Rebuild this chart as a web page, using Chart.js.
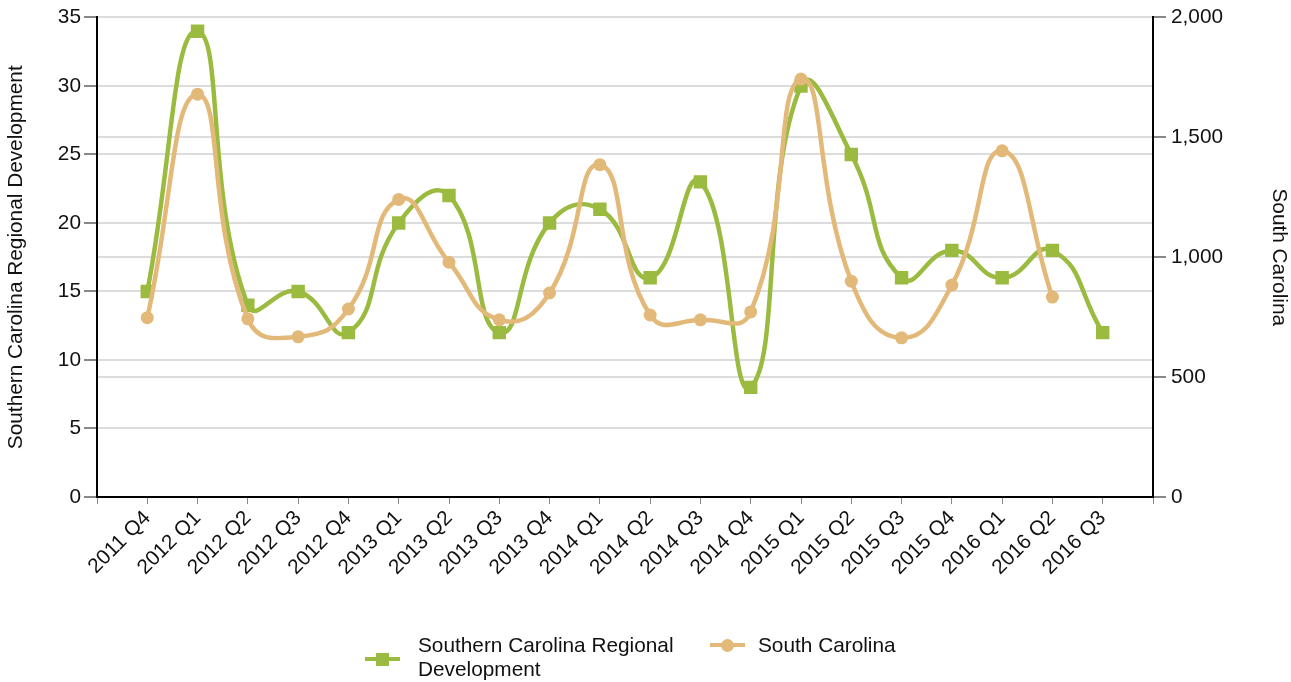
<!DOCTYPE html>
<html>
<head>
<meta charset="utf-8">
<script src="https://cdn.jsdelivr.net/npm/chart.js@4"></script>
<style>
  html, body { margin: 0; padding: 0; background: #fff; }
  #wrap { position: relative; width: 1291px; height: 682px; }
  #legend { position: absolute; left: 0; top: 0; width: 1291px; height: 682px; pointer-events: none;
    font-family: "Liberation Sans", Arial, sans-serif; font-size: 20.8px; color: #111; }
  .item { position: absolute; line-height: 24px; }
  .line { position: absolute; height: 4px; }
  .mark { position: absolute; }
</style>
</head>
<body>
<div id="wrap">
  <canvas id="chart" width="1291" height="682"></canvas>
  <div id="legend"></div>
</div>
<script>
const quarters = ['2011 Q4', '2012 Q1', '2012 Q2', '2012 Q3', '2012 Q4', '2013 Q1', '2013 Q2', '2013 Q3',
  '2013 Q4', '2014 Q1', '2014 Q2', '2014 Q3', '2014 Q4', '2015 Q1', '2015 Q2', '2015 Q3', '2015 Q4',
  '2016 Q1', '2016 Q2', '2016 Q3'];
const regional = [15, 34, 14, 15, 12, 20, 22, 12, 20, 21, 16, 23, 8, 30, 25, 16, 18, 16, 18, 12];
const southCarolina = [748, 1680, 743, 668, 784, 1241, 979, 739, 851, 1386, 759, 739, 772, 1743, 900, 664, 884, 1444, 834, null];
const leftTicks = [0, 5, 10, 15, 20, 25, 30, 35];
const rightTicks = [0, 500, 1000, 1500, 2000];

const GREEN = '#9bbb40';
const ORANGE = '#e3b97a';
const FONT = { family: '"Liberation Sans", Arial, sans-serif', size: 20.8 };

// empty slot at each end so the first/last quarter sit one step in from the axes
const labels = [''].concat(quarters, ['']);
const pad = arr => [null].concat(arr, [null]);

const ctx = document.getElementById('chart');
const chart = new Chart(ctx, {
  type: 'line',
  data: {
    labels: labels,
    datasets: [
      {
        label: 'Southern Carolina Regional Development',
        data: pad(regional),
        yAxisID: 'y',
        order: 1,
        borderColor: GREEN,
        backgroundColor: GREEN,
        borderWidth: 4.5,
        tension: 0.5,
        pointStyle: 'rect',
        pointRadius: 9.5,
        pointBorderWidth: 0,
        pointHoverRadius: 9.5,
      },
      {
        label: 'South Carolina',
        data: pad(southCarolina),
        yAxisID: 'y1',
        order: 0,
        borderColor: ORANGE,
        backgroundColor: ORANGE,
        borderWidth: 4.5,
        tension: 0.5,
        pointStyle: 'circle',
        pointRadius: 6.5,
        pointBorderWidth: 0,
        pointHoverRadius: 6.5,
      },
    ],
  },
  options: {
    responsive: false,
    animation: false,
    layout: { padding: { top: 15, left: 0, right: 0, bottom: 0 } },
    scales: {
      x: {
        offset: false,
        border: { display: true, color: '#000', width: 2 },
        grid: { drawOnChartArea: false, tickLength: 7, tickColor: '#888', lineWidth: 1 },
        ticks: { font: FONT, color: '#111', minRotation: 45, maxRotation: 45, autoSkip: false, padding: 2 },
        afterFit: s => { s.height = 185; },
      },
      y: {
        position: 'left',
        min: 0,
        max: 35,
        afterBuildTicks: s => { s.ticks = leftTicks.map(v => ({ value: v })); },
        border: { display: true, color: '#000', width: 2 },
        grid: { color: '#dcdcdc', lineWidth: 2, tickLength: 13, tickColor: '#888' },
        ticks: { font: FONT, color: '#111', padding: 3 },
        title: { display: true, text: 'Southern Carolina Regional Development', font: FONT, color: '#111', padding: { top: 4, bottom: 0 } },
        afterFit: s => { s.width = 97; },
      },
      y1: {
        position: 'right',
        min: 0,
        max: 2000,
        afterBuildTicks: s => { s.ticks = rightTicks.map(v => ({ value: v })); },
        border: { display: true, color: '#000', width: 2 },
        grid: { color: '#dcdcdc', lineWidth: 2, tickLength: 13, tickColor: '#888' },
        ticks: { font: FONT, color: '#111', padding: 5, callback: v => v.toLocaleString('en-US') },
        title: { display: true, text: 'South Carolina', font: FONT, color: '#111', padding: { top: 0, bottom: 2 } },
        afterFit: s => { s.width = 138; },
      },
    },
    plugins: {
      legend: { display: false },
      tooltip: { enabled: false },
    },
  },
});

// html legend under the plot
const legendBox = document.getElementById('legend');
function legendItem(color, shape, lineX, lineY, textX, textY, html) {
  const line = document.createElement('div');
  line.className = 'line';
  line.style.background = color;
  line.style.left = lineX + 'px';
  line.style.top = (lineY - 2) + 'px';
  line.style.width = '35px';
  legendBox.appendChild(line);
  const mark = document.createElement('div');
  mark.className = 'mark';
  mark.style.background = color;
  mark.style.width = '13px';
  mark.style.height = '13px';
  mark.style.left = (lineX + 11) + 'px';
  mark.style.top = (lineY - 6.5) + 'px';
  if (shape === 'circle') mark.style.borderRadius = '50%';
  legendBox.appendChild(mark);
  const text = document.createElement('div');
  text.className = 'item';
  text.style.left = textX + 'px';
  text.style.top = textY + 'px';
  text.innerHTML = html;
  legendBox.appendChild(text);
}
legendItem(GREEN, 'rect', 365, 659, 418, 633, 'Southern Carolina Regional<br>Development');
legendItem(ORANGE, 'circle', 710, 645, 758, 633, 'South Carolina');
</script>
</body>
</html>
